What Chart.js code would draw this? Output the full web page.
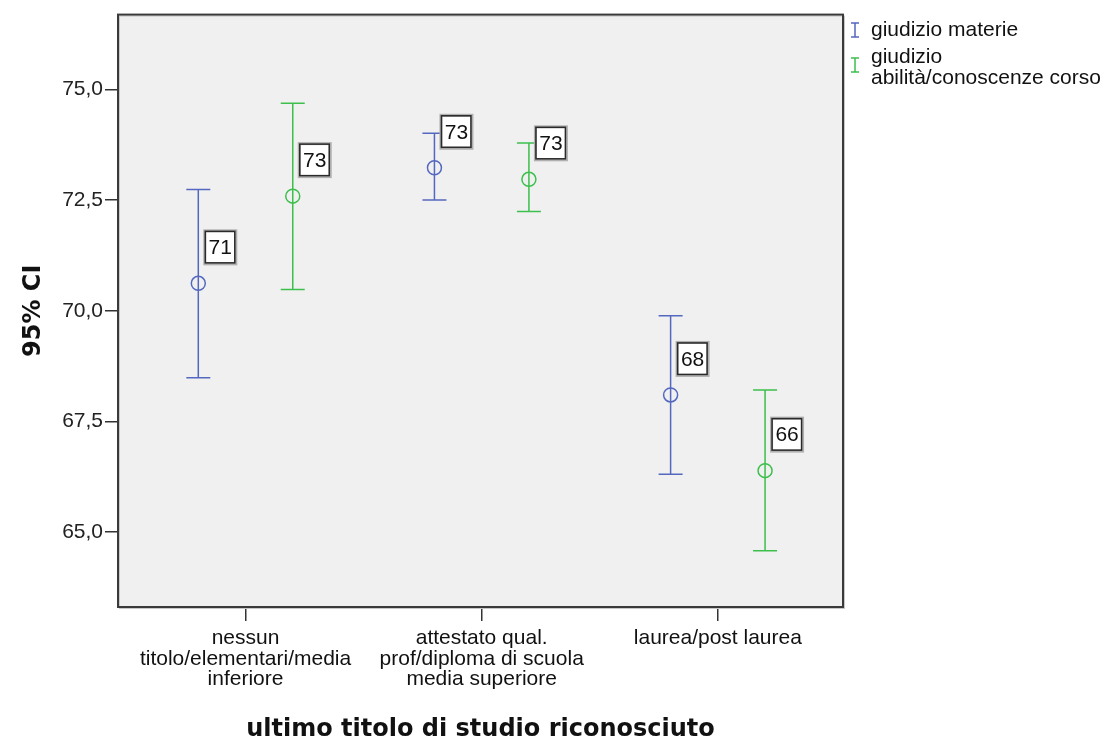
<!DOCTYPE html>
<html>
<head>
<meta charset="utf-8">
<script src="https://cdn.jsdelivr.net/npm/chart.js@4.4.1/dist/chart.umd.min.js"></script>
<style>
  html, body { margin: 0; padding: 0; background: #fff; }
  #wrap { width: 1116px; height: 738px; }
</style>
</head>
<body>
<div id="wrap"><canvas id="errChart"></canvas></div>
<script>
// categorie asse x (una riga per elemento)
const categorie = [
  ['nessun', 'titolo/elementari/media', 'inferiore'],
  ['attestato qual.', 'prof/diploma di scuola', 'media superiore'],
  ['laurea/post laurea']
];
const legendaRighe = [['giudizio materie'], ['giudizio', 'abilità/conoscenze corso']];

// medie e limiti IC 95%
const mediaMaterie = [70.62, 73.23, 68.10];
const infMaterie   = [68.49, 72.50, 66.31];
const supMaterie   = [72.74, 74.01, 69.89];

const mediaAbilita = [72.59, 72.97, 66.39];
const infAbilita   = [70.48, 72.24, 64.58];
const supAbilita   = [74.69, 73.79, 68.21];

const yTicks = [65, 67.5, 70, 72.5, 75];

const BLU = '#5568c0';
const VERDE = '#3cbf4c';
const FONT = "'Liberation Sans', Arial, sans-serif";
const OFFSET = 0.2;

const limiti = [
  { inf: infMaterie, sup: supMaterie },
  { inf: infAbilita, sup: supAbilita }
];

// sfondo grigio e bordo dell'area del grafico
const sfondoPlugin = {
  id: 'sfondo',
  beforeDraw(chart) {
    const { ctx, chartArea: a } = chart;
    ctx.save();
    ctx.fillStyle = '#f0f0f0';
    ctx.fillRect(a.left, a.top, a.right - a.left, a.bottom - a.top);
    ctx.restore();
  },
  afterDraw(chart) {
    const { ctx, chartArea: a } = chart;
    ctx.save();
    ctx.strokeStyle = '#c8c8c8';
    ctx.lineWidth = 1;
    ctx.strokeRect(a.left + 1.5, a.top + 1.5, a.right - a.left, a.bottom - a.top);
    ctx.strokeStyle = '#3a3a3a';
    ctx.lineWidth = 2;
    ctx.strokeRect(a.left, a.top, a.right - a.left, a.bottom - a.top);
    ctx.restore();
  }
};

// barre d'errore
const barrePlugin = {
  id: 'barre',
  beforeDatasetsDraw(chart) {
    const { ctx, scales: { x, y } } = chart;
    ctx.save();
    chart.data.datasets.forEach((ds, i) => {
      ctx.strokeStyle = ds.borderColor;
      ctx.lineWidth = 1.5;
      ds.data.forEach((p, j) => {
        const px = x.getPixelForValue(p.x);
        const y1 = y.getPixelForValue(limiti[i].inf[j]);
        const y2 = y.getPixelForValue(limiti[i].sup[j]);
        ctx.beginPath();
        ctx.moveTo(px, y1); ctx.lineTo(px, y2);
        ctx.moveTo(px - 12, y1); ctx.lineTo(px + 12, y1);
        ctx.moveTo(px - 12, y2); ctx.lineTo(px + 12, y2);
        ctx.stroke();
      });
    });
    ctx.restore();
  },
  afterDatasetsDraw(chart) {
    // etichette con la media arrotondata
    const { ctx, scales: { x, y } } = chart;
    ctx.save();
    ctx.font = '21px ' + FONT;
    ctx.textAlign = 'center';
    ctx.textBaseline = 'middle';
    chart.data.datasets.forEach(ds => {
      ds.data.forEach(p => {
        const px = x.getPixelForValue(p.x);
        const py = y.getPixelForValue(p.y);
        const bx = px + 5, by = py - 54, bw = 34, bh = 36;
        ctx.fillStyle = '#b0b0b0';
        ctx.fillRect(bx, by, bw, bh);
        ctx.fillStyle = '#fff';
        ctx.fillRect(bx + 3, by + 3, bw - 6, bh - 6);
        ctx.strokeStyle = '#2a2a2a';
        ctx.lineWidth = 1.5;
        ctx.strokeRect(bx + 2, by + 2, bw - 4.5, bh - 4.5);
        ctx.fillStyle = '#111';
        ctx.fillText(String(Math.round(p.y)), bx + bw / 2, by + bh / 2 + 1);
      });
    });
    ctx.restore();
  }
};

// legenda a destra
const legendaPlugin = {
  id: 'legenda',
  afterDraw(chart) {
    const ctx = chart.ctx;
    const voci = [
      { col: BLU, iy: 30, righe: legendaRighe[0], ty: [30] },
      { col: VERDE, iy: 65, righe: legendaRighe[1], ty: [57, 78] }
    ];
    ctx.save();
    ctx.font = '21px ' + FONT;
    ctx.textBaseline = 'middle';
    ctx.textAlign = 'left';
    voci.forEach(v => {
      ctx.strokeStyle = v.col;
      ctx.lineWidth = 1.5;
      ctx.beginPath();
      ctx.moveTo(855, v.iy - 7); ctx.lineTo(855, v.iy + 7);
      ctx.moveTo(851, v.iy - 7); ctx.lineTo(859, v.iy - 7);
      ctx.moveTo(851, v.iy + 7); ctx.lineTo(859, v.iy + 7);
      ctx.stroke();
      ctx.fillStyle = '#111';
      v.righe.forEach((t, k) => ctx.fillText(t, 871, v.ty[k]));
    });
    ctx.restore();
  }
};

new Chart(document.getElementById('errChart'), {
  type: 'scatter',
  data: {
    datasets: [{
      label: legendaRighe[0].join(' '),
      data: mediaMaterie.map((m, i) => ({ x: i - OFFSET, y: m })),
      borderColor: BLU,
      backgroundColor: 'rgba(0,0,0,0)',
      pointRadius: 7,
      pointBorderWidth: 1.5
    }, {
      label: legendaRighe[1].join(' '),
      data: mediaAbilita.map((m, i) => ({ x: i + OFFSET, y: m })),
      borderColor: VERDE,
      backgroundColor: 'rgba(0,0,0,0)',
      pointRadius: 7,
      pointBorderWidth: 1.5
    }]
  },
  options: {
    responsive: true,
    maintainAspectRatio: false,
    animation: false,
    events: [],
    layout: { padding: { left: 0, top: 14, right: 273, bottom: 0 } },
    plugins: { legend: { display: false }, tooltip: { enabled: false } },
    scales: {
      x: {
        type: 'linear',
        min: -0.54,
        max: 2.53,
        afterBuildTicks: s => { s.ticks = categorie.map((c, i) => ({ value: i })); },
        afterFit: s => { s.height = 131; },
        border: { display: false },
        grid: { drawOnChartArea: false, drawTicks: true, tickLength: 14, color: '#333', lineWidth: 1.5 },
        ticks: {
          autoSkip: false,
          maxRotation: 0,
          padding: 7,
          color: '#111',
          font: { family: FONT, size: 21, lineHeight: 0.98 },
          callback: v => categorie[v]
        },
        title: {
          display: true,
          text: 'ultimo titolo di studio riconosciuto',
          color: '#111',
          font: { family: "'DejaVu Sans', sans-serif", size: 24, weight: 'bold', lineHeight: 1 },
          padding: { top: 0, bottom: -4 }
        }
      },
      y: {
        min: 63.31,
        max: 76.69,
        afterBuildTicks: s => { s.ticks = yTicks.map(v => ({ value: v })); },
        afterFit: s => { s.width = 118; },
        border: { display: false },
        grid: { drawOnChartArea: false, drawTicks: true, tickLength: 13, color: '#333', lineWidth: 1.5 },
        ticks: {
          padding: 2,
          color: '#222',
          font: { family: FONT, size: 21 },
          callback: v => v.toFixed(1).replace('.', ',')
        },
        title: {
          display: true,
          text: '95% CI',
          color: '#111',
          font: { family: "'DejaVu Sans', sans-serif", size: 24, weight: 'bold', lineHeight: 1 },
          padding: { top: 22, bottom: 0 }
        }
      }
    }
  },
  plugins: [sfondoPlugin, barrePlugin, legendaPlugin]
});
</script>
</body>
</html>
